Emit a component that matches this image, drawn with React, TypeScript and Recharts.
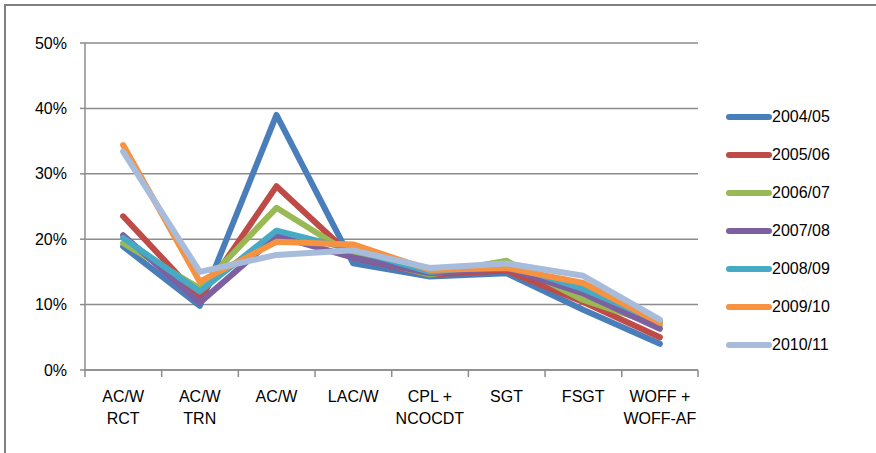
import { LineChart, Line, XAxis, YAxis, CartesianGrid, Legend } from "recharts";

const categories = [
  "AC/W\nRCT",
  "AC/W\nTRN",
  "AC/W",
  "LAC/W",
  "CPL +\nNCOCDT",
  "SGT",
  "FSGT",
  "WOFF +\nWOFF-AF",
];

const y2004 = [18.9, 9.8, 39.0, 16.3, 14.3, 14.8, 9.2, 4.0];
const y2005 = [23.5, 11.0, 28.1, 17.2, 14.6, 15.2, 10.4, 5.0];
const y2006 = [19.4, 12.5, 24.8, 17.5, 14.6, 16.7, 10.7, 6.8];
const y2007 = [20.6, 10.3, 20.5, 17.2, 14.8, 15.6, 11.7, 6.3];
const y2008 = [20.2, 12.0, 21.3, 18.4, 15.0, 16.2, 12.4, 7.4];
const y2009 = [34.4, 13.5, 19.6, 19.2, 15.3, 15.6, 13.3, 7.2];
const y2010 = [33.4, 15.0, 17.6, 18.3, 15.6, 16.3, 14.4, 7.7];

const yTicks = [0, 10, 20, 30, 40, 50];

const series = [
  { key: "2004/05", values: y2004, color: "#4a7ebb" },
  { key: "2005/06", values: y2005, color: "#be4b48" },
  { key: "2006/07", values: y2006, color: "#98b954" },
  { key: "2007/08", values: y2007, color: "#7d60a0" },
  { key: "2008/09", values: y2008, color: "#46aac5" },
  { key: "2009/10", values: y2009, color: "#f69240" },
  { key: "2010/11", values: y2010, color: "#a7bcdb" },
];

const data = categories.map((c, i) => {
  const row: Record<string, string | number> = { cat: c };
  series.forEach((s) => {
    row[s.key] = s.values[i];
  });
  return row;
});

const FONT = "'Liberation Sans', Arial, sans-serif";
const STEP = 610 / categories.length;

const CatTick = (props: any) => {
  const { x, y, payload, index } = props;
  const lines = String(payload.value).split("\n");
  return (
    <g>
      <line x1={x - STEP / 2} x2={x - STEP / 2} y1={y - 2} y2={y + 5} stroke="#8c8c8c" strokeWidth={1.5} />
      {index === categories.length - 1 && (
        <line x1={x + STEP / 2} x2={x + STEP / 2} y1={y - 2} y2={y + 5} stroke="#8c8c8c" strokeWidth={1.5} />
      )}
      <text x={x} y={y + 30} textAnchor="middle" fontSize={16} fontFamily={FONT} fill="#000">
        {lines.map((l, i) => (
          <tspan key={i} x={x} dy={i === 0 ? 0 : 22}>
            {l}
          </tspan>
        ))}
      </text>
    </g>
  );
};

const LegendContent = () => (
  <div style={{ fontFamily: FONT, fontSize: 16, color: "#000" }}>
    {series.map((s) => (
      <div key={s.key} style={{ display: "flex", alignItems: "center", height: 38 }}>
        <svg width={46} height={10}>
          <line x1={3} x2={43} y1={5} y2={5} stroke={s.color} strokeWidth={6} strokeLinecap="round" />
        </svg>
        <span>{s.key}</span>
      </div>
    ))}
  </div>
);

const App = () => {
  return (
    <div style={{ position: "relative", width: 876, height: 453, background: "#fff" }}>
      <style>{"body{margin:0}"}</style>
      <div
        style={{
          position: "absolute",
          left: 4,
          top: 4,
          right: 0,
          bottom: 0,
          borderTop: "2px solid #808080",
          borderLeft: "2px solid #808080",
        }}
      />
      <LineChart
        width={876}
        height={453}
        data={data}
        margin={{ top: 43, right: 28, left: 0, bottom: 0 }}
        style={{ position: "absolute", left: 0, top: 0 }}
      >
        <CartesianGrid vertical={false} stroke="#8c8c8c" strokeWidth={1.5} />
        <XAxis
          dataKey="cat"
          interval={0}
          height={83}
          padding={{ left: STEP / 2, right: STEP / 2 }}
          tickLine={false}
          axisLine={{ stroke: "#8c8c8c", strokeWidth: 1.5 }}
          tick={<CatTick />}
          tickSize={0}
        />
        <YAxis
          width={85}
          domain={[0, 50]}
          ticks={yTicks}
          interval={0}
          tickFormatter={(v) => `${v}%`}
          tickSize={5}
          tickMargin={13}
          tickLine={{ stroke: "#8c8c8c", strokeWidth: 1.5 }}
          axisLine={{ stroke: "#8c8c8c", strokeWidth: 1.5 }}
          tick={{ fontSize: 16, fontFamily: FONT, fill: "#000" }}
        />
        <Legend
          layout="vertical"
          align="right"
          verticalAlign="top"
          content={<LegendContent />}
          wrapperStyle={{ width: 150, left: 726, top: 98 }}
        />
        {series.map((s) => (
          <Line
            key={s.key}
            dataKey={s.key}
            stroke={s.color}
            strokeWidth={6}
            strokeLinecap="round"
            strokeLinejoin="round"
            dot={false}
            activeDot={false}
            isAnimationActive={false}
          />
        ))}
      </LineChart>
    </div>
  );
};

export default App;
